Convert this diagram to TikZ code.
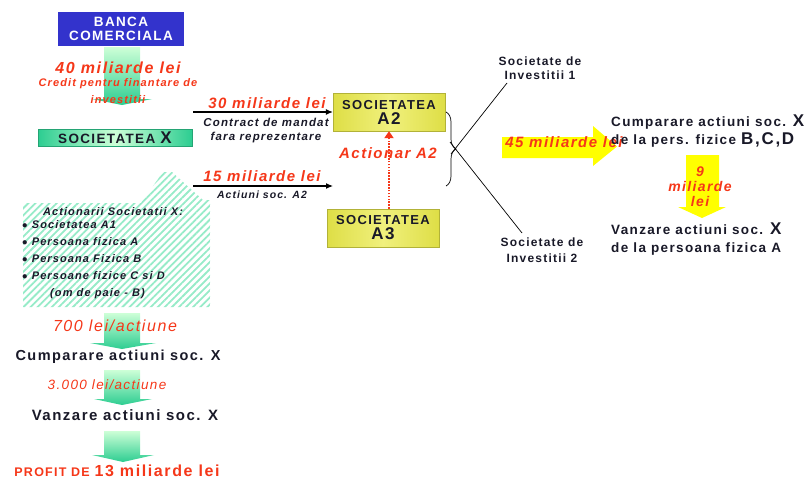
\documentclass[tikz,border=0pt]{standalone}
\usepackage{fontspec}
\setmainfont{Liberation Sans}[LetterSpace=10]
\usetikzlibrary{arrows.meta,patterns.meta,decorations.pathreplacing,shadings}

\definecolor{bankblue}{RGB}{51,51,204}
\definecolor{redc}{RGB}{245,55,25}
\definecolor{inkc}{RGB}{25,25,40}
\definecolor{mintlight}{RGB}{205,255,215}
\definecolor{mintdark}{RGB}{45,205,145}
\definecolor{hatchc}{RGB}{150,235,200}
\definecolor{boxyel}{RGB}{222,222,70}
\definecolor{boxyelmid}{RGB}{240,240,125}
\definecolor{arrowyel}{RGB}{255,255,0}

\newcommand{\fs}[1]{\fontsize{#1}{#1}\selectfont}

\tikzset{
  bankbox/.style={fill=bankblue, text=white, font=\bfseries\fs{13.5}, align=center,
    inner sep=0pt, minimum width=126pt, minimum height=34pt},
  greenbox/.style={left color=mintdark, right color=mintdark, middle color=mintlight,
    draw=mintdark!80!black, line width=0.3pt, text=inkc, inner sep=0pt,
    minimum width=154pt, minimum height=17pt, font=\bfseries\fs{13.5}},
  yelbox/.style={left color=boxyel, right color=boxyel, middle color=boxyelmid,
    draw=boxyel!80!black, line width=0.3pt, text=inkc, inner sep=0pt, align=center,
    minimum width=112pt, minimum height=38pt, font=\bfseries\fs{13}},
  redlabel/.style={text=redc, font=\bfseries\itshape\fs{#1}, inner sep=0pt},
  redlabel/.default=15,
  redthin/.style={text=redc, font=\itshape\fs{#1}, inner sep=0pt},
  note/.style={text=inkc, font=\bfseries\itshape\fs{#1}, inner sep=0pt, align=center},
  plain/.style={text=inkc, font=\bfseries\fs{#1}, inner sep=0pt},
  flow/.style={draw=black, line width=1.1pt, -{Latex[length=7pt,width=6pt]}},
  thinline/.style={draw=black, line width=0.7pt},
  downgreen/.style={top color=mintlight, bottom color=mintdark},
  yelarrow/.style={fill=arrowyel},
}

\begin{document}
\begin{tikzpicture}[x=1pt,y=-1pt]
\useasboundingbox (0,0) rectangle (807,479);
\clip (0,0) rectangle (807,479);

% ---------------- left column ----------------
\node[bankbox] (bank) at (121,29) {BANCA\\[1pt]COMERCIALA};

% credit flow from the bank down to company X
\shade[downgreen] (104,47) -- (140,47) -- (140,99) -- (152,99) -- (122,105)
  -- (92,99) -- (104,99) -- cycle;
\node[redlabel=16] (credit) at (118,68) {40 miliarde lei};
\node[redthin=11, font=\bfseries\itshape\fs{11}] (creditnote) at (118,84) {Credit pentru finantare de};
\node[redthin=11, font=\bfseries\itshape\fs{11}] (creditnote2) at (118,100) {investitii};

\node[greenbox] (socx) at (115,137.5) {SOCIETATEA {\fs{17}X}};

% shareholders callout
\fill[pattern={Lines[angle=45,distance=5pt,line width=1.8pt]}, pattern color=hatchc]
  (23,203) -- (141,203) -- (163,172) -- (172,172) -- (203,200) -- (210,200)
  -- (210,307) -- (23,307) -- cycle;
\node[note=11] (callhead) at (113,212) {Actionarii Societatii X:};
\node[note=11, anchor=north west, align=left, font=\bfseries\itshape\fontsize{11}{17}\selectfont]
  (calllist) at (22,220) {$\bullet$ Societatea A1\\
  $\bullet$ Persoana fizica A\\
  $\bullet$ Persoana Fizica B\\
  $\bullet$ Persoane fizice C si D\\
  \hspace*{28pt}(om de paie - B)};

% price steps
\shade[downgreen] (104,313) -- (140,313) -- (140,343) -- (156,343) -- (122,349)
  -- (90,343) -- (104,343) -- cycle;
\node[redthin=16] (buyprice) at (115,326) {700 lei/actiune};
\node[plain=14.5] (buy) at (118,357) {Cumparare actiuni soc. X};

\shade[downgreen] (104,370) -- (140,370) -- (140,399) -- (152,399) -- (122,405)
  -- (94,399) -- (104,399) -- cycle;
\node[redthin=13.5] (sellprice) at (107,385) {3.000 lei/actiune};
\node[plain=15] (sell) at (125,415) {Vanzare actiuni soc. X};

\shade[downgreen] (104,431) -- (140,431) -- (140,455) -- (154,455) -- (123,462)
  -- (92,455) -- (104,455) -- cycle;
\node[text=redc, font=\bfseries, inner sep=0pt, anchor=base] (profit) at (117,476.5)
  {\fs{12.5}PROFIT DE \fs{16}13 miliarde lei};

% ---------------- middle ----------------
\node[yelbox] (a2) at (389,112) {SOCIETATEA\\[2pt]{\fs{17}A2}};
\node[yelbox] (a3) at (383,228) {SOCIETATEA\\[2pt]{\fs{17}A3}};

\coordinate (mandstart) at (193,112);
\draw[flow] (mandstart) -- (a2.west);
\node[redlabel=15] (mandsum) at (267,103) {30 miliarde lei};
\node[note=11.5] (mandnote) at (266,122) {Contract de mandat};
\node[note=11.5] (mandnote2) at (266,138) {fara reprezentare};

\coordinate (sharestart) at (193,186);
\coordinate (shareend) at (333,186);
\draw[flow] (sharestart) -- (shareend);
\node[redlabel=15] (sharesum) at (262,176) {15 miliarde lei};
\node[note=10.5] (sharenote) at (262,195) {Actiuni soc. A2};

\node[redlabel=15] (holder) at (388,153) {Actionar A2};
\draw[redc, line width=2.3pt, dash pattern=on 1.6pt off 1.3pt,
  -{Triangle[length=7pt,width=9pt]}] (a3.north -| a2.south) -- (a2.south);

% brace gathering both transfers
\coordinate (bracetop) at (446,112);
\coordinate (bracebot) at (446,186);
\draw[thinline, decorate, decoration={brace, amplitude=10pt}] (bracetop) -- (bracebot);

% ---------------- right side ----------------
\node[plain=12, align=center, font=\bfseries\fontsize{12}{14}\selectfont] (inv1) at (540,68)
  {Societate de\\Investitii 1};
\node[plain=12, align=center, font=\bfseries\fontsize{12}{16}\selectfont] (inv2) at (542,250)
  {Societate de\\Investitii 2};

\coordinate (l1a) at (507,83);
\coordinate (l1b) at (451,154);
\coordinate (l2a) at (522,233);
\coordinate (l2b) at (450,142);
\draw[thinline] (l1a) -- (l1b);
\draw[thinline] (l2a) -- (l2b);

\fill[yelarrow] (502,137) -- (593,137) -- (593,126) -- (617,146.5) -- (593,166)
  -- (593,158) -- (502,158) -- cycle;
\node[redlabel=15] (sum45) at (564,142) {45 miliarde lei};

\node[plain=13.5, anchor=west, align=left, font=\bfseries\fontsize{13.5}{18}\selectfont] (buyright) at (611,131)
  {Cumparare actiuni soc. {\fs{17}X}\\ de la pers. fizice {\fs{17}B,C,D}};

\fill[yelarrow] (686,155) -- (719,155) -- (719,207) -- (726,207) -- (702,218)
  -- (678,207) -- (686,207) -- cycle;
\node[redlabel=14, align=center, font=\bfseries\itshape\fontsize{14}{15}\selectfont] (sum9) at (700,187)
  {9\\miliarde\\lei};

\node[plain=13.5, anchor=west, align=left, font=\bfseries\fontsize{13.5}{18}\selectfont] (sellright) at (611,239)
  {Vanzare actiuni soc. {\fs{17}X}\\de la persoana fizica A};

\end{tikzpicture}
\end{document}
